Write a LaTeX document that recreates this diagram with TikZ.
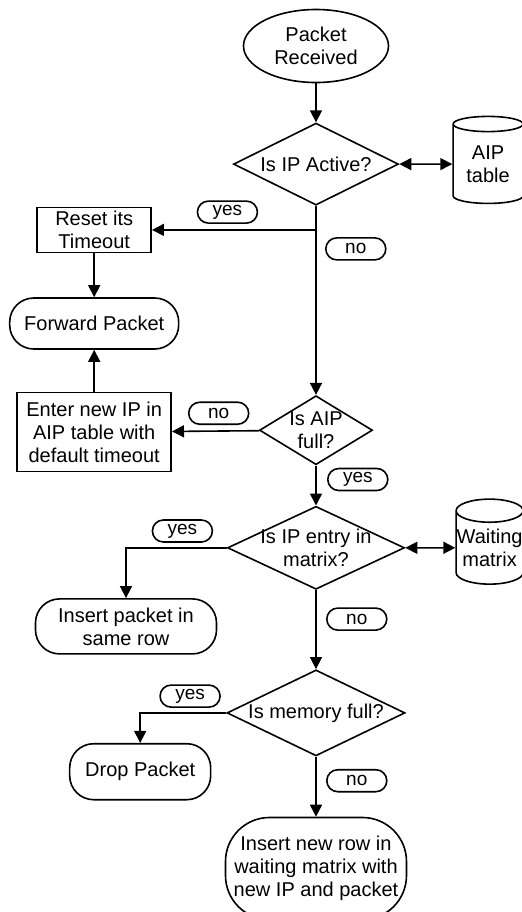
\documentclass[tikz,border=0pt]{standalone}
\usepackage{fontspec}
\setmainfont{Liberation Sans}
\usetikzlibrary{shapes.geometric,positioning,arrows.meta}

\tikzset{
  every node/.style={font=\fontsize{10}{11.5}\selectfont},
  outline/.style={draw, line width=0.8pt},
  event/.style={outline, ellipse, align=center, inner sep=0pt, minimum width=72.5pt, minimum height=36.5pt},
  process/.style={outline, rectangle, align=center, inner sep=0pt},
  term/.style={outline, rectangle, rounded corners=12pt, align=center, inner sep=0pt},
  decision/.style={outline, diamond, inner sep=0pt},
  store/.style={outline, cylinder, shape border rotate=90, aspect=0.35, align=center, inner sep=0pt},
  inside/.style={align=center, inner sep=0pt},
  lbl/.style={outline, rectangle, rounded corners=5.5pt, minimum width=30pt, minimum height=11pt, inner sep=0pt, font=\fontsize{9.5}{10}\selectfont},
  flow/.style={line width=0.8pt, -{Triangle[length=6pt,width=6pt]}},
  twoway/.style={line width=0.8pt, {Triangle[length=6pt,width=6pt]}-{Triangle[length=6pt,width=6pt]}},
  plain/.style={line width=0.8pt}
}

\begin{document}
\begin{tikzpicture}
        \useasboundingbox (-158pt,23pt) rectangle (103pt,-433pt); %
        \node[event] (recv) {Packet\\Received} ; %
        \node[decision, minimum width=82.5pt, minimum height=41pt, below = 19.5pt of recv, label={[inside]center:Is IP Active?}] (active) {} ; %
        \node[store, minimum width=35pt, minimum height=43.5pt, right = 26.5pt of active] (aip) {AIP\\table} ; %
        \coordinate[below = 12pt of active] (split) ; %
        \node[process, minimum width=57pt, minimum height=22.5pt, left = 82pt of split] (reset) {Reset its\\Timeout} ; %
        \node[term, minimum width=84.5pt, minimum height=25.5pt, below = 22pt of reset] (fwd) {Forward Packet} ; %
        \node[process, minimum width=77pt, minimum height=39.5pt, below = 21pt of fwd] (enter) {Enter new IP in\\AIP table with\\default timeout} ; %
        \node[decision, minimum width=56.5pt, minimum height=34.5pt, below = 94.5pt of active, label={[inside]center:Is AIP\\full?}] (full) {} ; %
        \node[decision, minimum width=88.5pt, minimum height=41.5pt, below = 20pt of full, label={[inside]center:Is IP entry in\\matrix?}] (entry) {} ; %
        \node[store, minimum width=33.5pt, minimum height=42.5pt, right = 25pt of entry] (wait) {Waiting\\matrix} ; %
        \node[term, minimum width=90.5pt, minimum height=27.5pt, below = 4pt of entry.south, xshift=-95pt] (same) {Insert packet in\\same row} ; %
        \node[decision, minimum width=89pt, minimum height=43pt, below = 39.5pt of entry, label={[inside]center:Is memory full?}] (mem) {} ; %
        \node[term, minimum width=70.5pt, minimum height=28pt, below = 15pt of mem.west, xshift=-43pt] (drop) {Drop Packet} ; %
        \node[term, rounded corners=22pt, minimum width=90.5pt, minimum height=51pt, below = 30pt of mem] (newrow) {Insert new row in\\waiting matrix with\\new IP and packet} ; %
        %
        \draw[flow] (recv) -- (active) ; %
        \draw[twoway] (active) -- (aip) ; %
        \draw[plain] (active) -- (split) ; %
        \draw[flow] (split) -- node[lbl, pos=0.54, above=3pt] (yes_a) {yes} (reset) ; %
        \draw[flow] (split) -- node[lbl, pos=0.115, right=4.5pt] (no_a) {no} (full) ; %
        \draw[flow] (reset) -- (fwd) ; %
        \draw[flow] (enter) -- (fwd) ; %
        \draw[flow] (full) -- node[lbl, pos=0.466, above=3pt] (no_f) {no} (enter) ; %
        \draw[flow] (full) -- node[lbl, pos=0.35, right=5.5pt] (yes_f) {yes} (entry) ; %
        \draw[twoway] (entry) -- (wait) ; %
        \draw[flow] (entry) -| node[lbl, pos=0.22, above=2.5pt] (yes_e) {yes} (same) ; %
        \draw[flow] (entry) -- node[lbl, pos=0.367, right=5pt] (no_e) {no} (mem) ; %
        \draw[flow] (mem) -| node[lbl, pos=0.21, above=2.5pt] (yes_m) {yes} (drop) ; %
        \draw[flow] (mem) -- node[lbl, pos=0.4, right=5pt] (no_m) {no} (newrow) ; %
\end{tikzpicture}
\end{document}
